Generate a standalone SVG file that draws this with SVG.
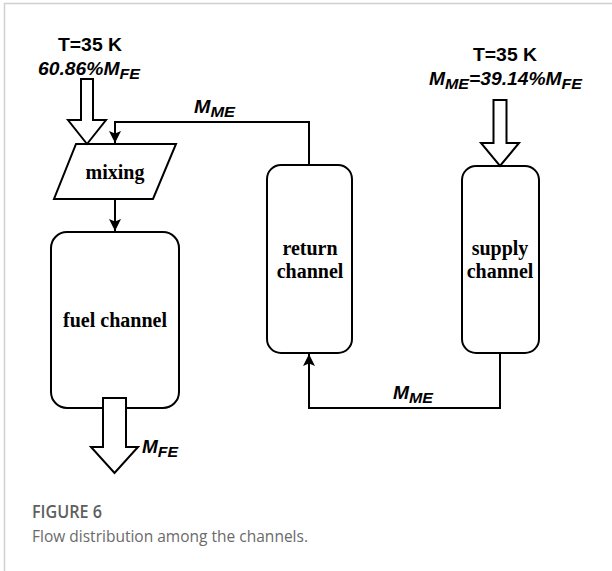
<svg xmlns="http://www.w3.org/2000/svg" width="612" height="571" viewBox="0 0 612 571">
<style>
.box{fill:#fff;stroke:#000;stroke-width:2}
.blk{fill:#fff;stroke:#000;stroke-width:2;stroke-linejoin:miter}
.con{fill:none;stroke:#000;stroke-width:2}
.ser{font-family:"Liberation Serif","Times New Roman",serif;font-weight:bold;font-size:20px;fill:#000;text-anchor:middle}
.ari{font-family:"Liberation Sans",Arial,sans-serif;font-weight:bold;font-size:18px;fill:#000}
.it{font-style:italic}
.cap1{font-family:"Open Sans","Noto Sans",sans-serif;font-weight:600;font-size:18.5px;fill:#5f5f5f}
.cap2{font-family:"Open Sans","Noto Sans",sans-serif;font-size:17px;fill:#6a6a6a}
</style>
<defs>
<marker id="ah" viewBox="0 0 10 10" refX="10" refY="5" markerWidth="6" markerHeight="6" orient="auto" markerUnits="strokeWidth">
<path d="M0,0 L10,5 L0,10 L2,5 z" fill="#000"/>
</marker>
</defs>
<rect x="0" y="0" width="612" height="571" fill="#fff"/>
<path d="M4.5,571 V3.5 H612" fill="none" stroke="#d0d0d0" stroke-width="1.5"/>

<g id="connectors">
<path class="con" d="M309,165 V122 H115 V143" marker-end="url(#ah)"/>
<path class="con" d="M115,199 V231" marker-end="url(#ah)"/>
<path class="con" d="M500,353 V408 H309 V354" marker-end="url(#ah)"/>
</g>

<g id="fuel-channel">
<rect class="box" x="51" y="232" width="128" height="176" rx="16" ry="16"/>
<text class="ser" x="115" y="327">fuel channel</text>
</g>

<g id="mixing">
<polygon class="box" points="76,144 176,144 153,199 54,199"/>
<text class="ser" x="115" y="179">mixing</text>
</g>

<g id="return-channel">
<rect class="box" x="267" y="165" width="85" height="188" rx="14" ry="14"/>
<text class="ser" x="310" y="255">return</text>
<text class="ser" x="310" y="278">channel</text>
</g>

<g id="supply-channel">
<rect class="box" x="462" y="166" width="77" height="187" rx="14" ry="14"/>
<text class="ser" x="500" y="255">supply</text>
<text class="ser" x="500" y="278">channel</text>
</g>

<g id="inlet-fuel">
<polygon class="blk" points="81,79 93,79 93,120 106,120 87,144 68,120 81,120"/>
<text class="ari" x="58" y="51" textLength="64" lengthAdjust="spacingAndGlyphs">T=35 K</text>
<text class="ari it" x="38" y="75" textLength="102" lengthAdjust="spacingAndGlyphs">60.86%M<tspan font-size="15" dy="4">FE</tspan></text>
</g>

<g id="inlet-supply">
<polygon class="blk" points="493.5,100 506.5,100 506.5,143 519,143 500,166 481,143 493.5,143"/>
<text class="ari" x="473" y="61" textLength="64" lengthAdjust="spacingAndGlyphs">T=35 K</text>
<text class="ari it" x="429" y="85" textLength="153" lengthAdjust="spacingAndGlyphs">M<tspan font-size="15" dy="4">ME</tspan><tspan dy="-4">=39.14%M</tspan><tspan font-size="15" dy="4">FE</tspan></text>
</g>

<g id="outlet-fuel">
<polygon class="blk" points="103,398 126,398 126,447 138,447 114.5,473 91,447 103,447"/>
<text class="ari it" x="142" y="453" textLength="36" lengthAdjust="spacingAndGlyphs">M<tspan font-size="15" dy="4">FE</tspan></text>
</g>

<g id="labels">
<text class="ari it" x="194" y="113" textLength="41" lengthAdjust="spacingAndGlyphs">M<tspan font-size="15" dy="4">ME</tspan></text>
<text class="ari it" x="393" y="399" textLength="40" lengthAdjust="spacingAndGlyphs">M<tspan font-size="15" dy="4">ME</tspan></text>
</g>

<g id="caption">
<text class="cap1" x="32" y="518" textLength="70" lengthAdjust="spacingAndGlyphs">FIGURE 6</text>
<text class="cap2" x="32" y="542" textLength="276" lengthAdjust="spacingAndGlyphs">Flow distribution among the channels.</text>
</g>
</svg>
